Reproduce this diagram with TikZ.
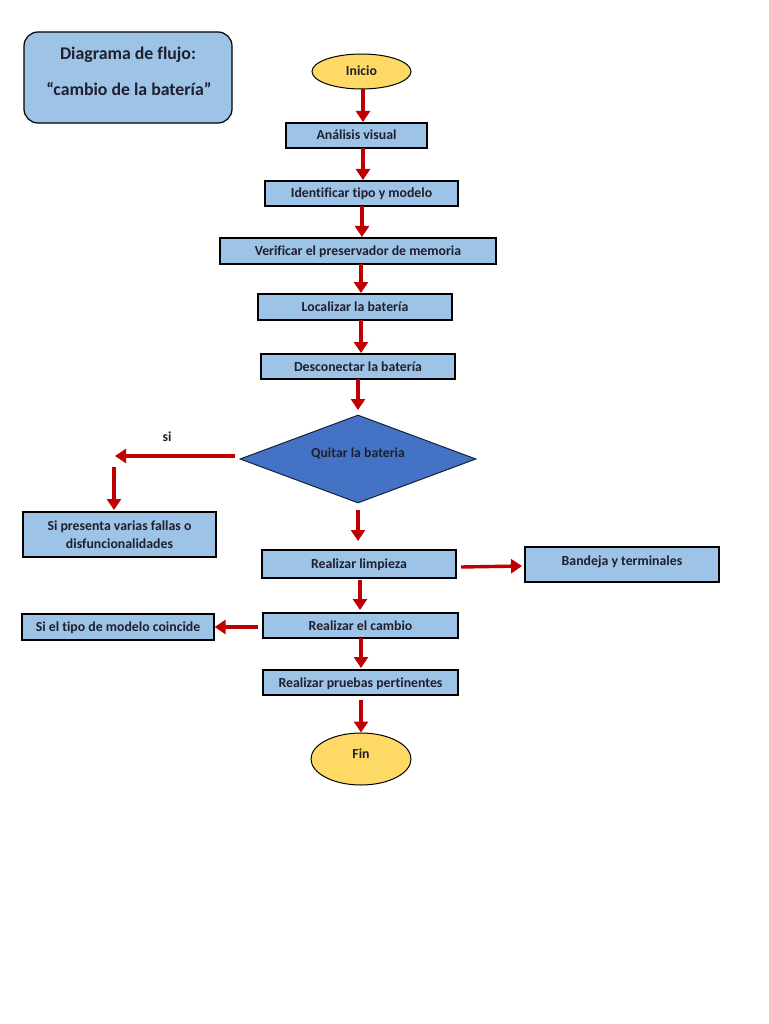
\documentclass[tikz,border=0pt]{standalone}
\usepackage{fontspec}
\setmainfont[Ligatures=NoCommon]{Carlito}
\usetikzlibrary{shapes.geometric,arrows.meta}
\definecolor{boxblue}{HTML}{9DC3E6}
\definecolor{diamblue}{HTML}{4472C4}
\definecolor{termyellow}{HTML}{FFD966}
\definecolor{arrred}{HTML}{C00000}
\definecolor{txt}{HTML}{1F1F2E}
\tikzset{
  stepbox/.style={rectangle, draw=black, line width=1.3pt, fill=boxblue, inner sep=0pt,
    font=\bfseries\fontsize{13.8}{15}\selectfont, text=txt, align=center,
    text height=10.5pt, text depth=1.5pt},
  term/.style={ellipse, draw=black, line width=1pt, fill=termyellow, inner sep=0pt,
    font=\bfseries\fontsize{13.8}{15}\selectfont, text=txt, text height=10.5pt, text depth=1.5pt},
  decis/.style={diamond, draw=black!70!diamblue, line width=1pt, fill=diamblue, inner sep=0pt},
  lbl/.style={font=\bfseries\fontsize{13.8}{15}\selectfont, text=txt, text height=10.5pt, text depth=1.5pt},
  flow/.style={draw=arrred, line width=3.4pt, -{Triangle[length=11pt,width=14pt]}},
}
\begin{document}
\begin{tikzpicture}[x=1pt,y=-1pt]
\useasboundingbox (0,0) rectangle (768,1024);
\fill[white] (0,0) rectangle (768,1024);
% title
\node[rectangle, rounded corners=14pt, draw=black, line width=1.2pt, fill=boxblue,
  minimum width=208pt, minimum height=91pt, inner sep=0pt] (title) at (128,77.5) {};
\node[font=\bfseries\fontsize{17.8}{20}\selectfont, text=txt] (t1) at (128,55) {Diagrama de flujo:};
\node[font=\bfseries\fontsize{17.8}{20}\selectfont, text=txt] (t2) at (129,89) {“cambio de la batería”};
% main column
\node[term, minimum width=99pt, minimum height=35pt] (inicio) at (361.5,71.5) {Inicio};
\node[stepbox, minimum width=141pt, minimum height=25pt] (analisis) at (356.5,135.5) {Análisis visual};
\node[stepbox, minimum width=193pt, minimum height=25pt] (ident) at (361.5,193.5) {Identificar tipo y modelo};
\node[stepbox, minimum width=276pt, minimum height=26pt] (verif) at (358,251) {Verificar el preservador de memoria};
\node[stepbox, minimum width=194pt, minimum height=26pt] (local) at (355,307) {Localizar la batería};
\node[stepbox, minimum width=194pt, minimum height=25pt] (descon) at (358,366.5) {Desconectar la batería};
\node[decis, minimum width=236pt, minimum height=88pt, aspect=2.68] (quitar) at (358,459) {};
\node[lbl] (quitarlbl) at (358,453) {Quitar la bateria};
\node[stepbox, minimum width=194pt, minimum height=28pt] (limpieza) at (359,564) {Realizar limpieza};
\node[stepbox, minimum width=194pt, minimum height=35pt, text depth=8.5pt] (bandeja) at (622,564.5) {Bandeja y terminales};
\node[stepbox, minimum width=195pt, minimum height=25pt] (cambio) at (360.5,625.5) {Realizar el cambio};
\node[stepbox, minimum width=192pt, minimum height=26pt] (coincide) at (118,627) {Si el tipo de modelo coincide};
\node[stepbox, minimum width=195pt, minimum height=25pt] (pruebas) at (360.5,682.5) {Realizar pruebas pertinentes};
\node[term, minimum width=100pt, minimum height=52pt] (fin) at (361,759) {};
\node[lbl] (finlbl) at (361,754) {Fin};
\node[stepbox, minimum width=193pt, minimum height=45pt, text height=, text depth=] (fallas) at (119.5,534.5) {Si presenta varias fallas o\\[3pt]disfuncionalidades};
\node[lbl] (si) at (167,437) {si};
% connectors
\coordinate (siend) at (115,456);
\coordinate (sistart) at (235,456);
\coordinate (downtop) at (114,467);
\draw[flow] (inicio.south -| 363,0) -- (363,122);
\draw[flow] (363,148) -- (363,180);
\draw[flow] (362,206) -- (362,237);
\draw[flow] (361,264) -- (361,293);
\draw[flow] (361,320) -- (361,353);
\draw[flow] (358,379) -- (358,410);
\draw[flow] (sistart) -- (siend);
\draw[flow] (downtop) -- (114,510);
\draw[flow] (358,510) -- (358,541);
\draw[flow] (461,567) -- (522,566);
\draw[flow] (360,580) -- (360,610);
\draw[flow] (258,627) -- (coincide.east);
\draw[flow] (361,638) -- (361,668);
\draw[flow] (361,700) -- (fin.north -| 361,0);
\end{tikzpicture}
\end{document}
